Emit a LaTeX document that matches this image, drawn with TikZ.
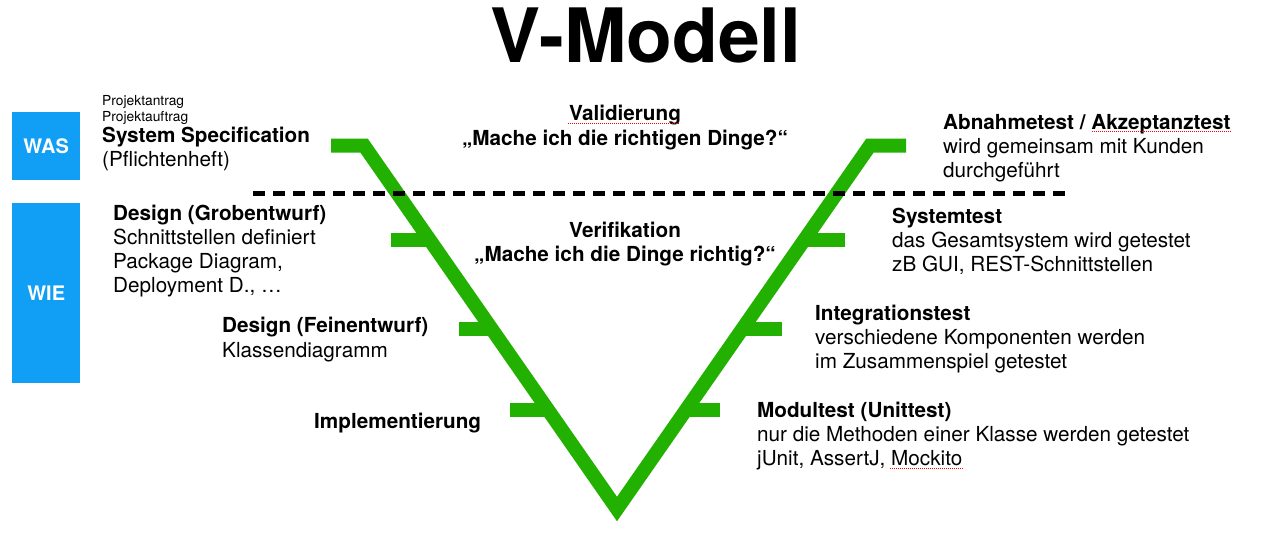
\documentclass[tikz,border=0pt]{standalone}
\usepackage{fontspec}
\setmainfont{TeX Gyre Heros}
\definecolor{vgreen}{RGB}{34,177,0}
\definecolor{wblue}{RGB}{17,158,245}
\tikzset{
  txt/.style={anchor=base west, inner sep=0pt, font=\fontsize{20.7}{24}\selectfont},
  btxt/.style={txt, font=\fontsize{20.7}{24}\selectfont\bfseries},
  ctxt/.style={btxt, anchor=base},
  smalltxt/.style={anchor=base west, inner sep=0pt, font=\fontsize{13.8}{16}\selectfont},
  vline/.style={draw=vgreen, line width=14pt, miter limit=10, line join=miter},
  vtick/.style={draw=vgreen, line width=14pt},
  sepline/.style={draw=black, line width=5pt, dash pattern=on 12pt off 8pt},
  bluebox/.style={fill=wblue, draw=none, anchor=north west, inner sep=0pt,
    minimum width=68pt, text=white, font=\fontsize{20}{24}\selectfont\bfseries},
  spell/.style={draw=red, line width=0.7pt, dash pattern=on 1pt off 1pt}
}
\begin{document}
\begin{tikzpicture}[x=1pt,y=-1pt]
\useasboundingbox[fill=white] (0,0) rectangle (1271,538);

% title
\node[anchor=base, inner sep=0pt, font=\fontsize{75}{80}\selectfont\bfseries] (title) at (646,62) {V-Modell};

% blue boxes
\node[bluebox, minimum height=68pt] (was) at (12,112) {WAS};
\node[bluebox, minimum height=180pt] (wie) at (12,203) {WIE};

% V shape
\coordinate (vs) at (331,145.5);
\coordinate (vl) at (364,145.5);
\coordinate (vb) at (617,509);
\coordinate (vr) at (870,145.5);
\coordinate (vend) at (906,145.5);
\draw[vline] (vs) -- (vl) -- (vb) -- (vr) -- (vend);

\path (vl) -- (vb) coordinate[pos=0.26] (l1) coordinate[pos=0.505] (l2) coordinate[pos=0.728] (l3);
\path (vb) -- (vr) coordinate[pos=0.74] (r1) coordinate[pos=0.495] (r2) coordinate[pos=0.272] (r3);
\draw[vtick] (l1) -- ++(-39,0);
\draw[vtick] (l2) -- ++(-33,0);
\draw[vtick] (l3) -- ++(-38,0);
\draw[vtick] (r1) -- ++(41,0);
\draw[vtick] (r2) -- ++(40,0);
\draw[vtick] (r3) -- ++(34,0);

% separator
\coordinate (d1) at (253,193);
\coordinate (d2) at (1072,193);
\draw[sepline] (d1) -- (d2);

% left texts
\node[smalltxt] (pa) at (102,105) {Projektantrag};
\node[smalltxt] (pb) at (102,121) {Projektauftrag};
\node[btxt] (ss) at (102,142) {System Specification};
\node[txt] (ph) at (102,166) {(Pflichtenheft)};

\node[btxt] (dg) at (113,220) {Design (Grobentwurf)};
\node[txt] (dg1) at (113,244) {Schnittstellen definiert};
\node[txt] (dg2) at (113,268) {Package Diagram,};
\node[txt] (dg3) at (113,292) {Deployment D., …};

\node[btxt] (df) at (222,332) {Design (Feinentwurf)};
\node[txt] (df1) at (222,357) {Klassendiagramm};
\node[btxt] (im) at (314,428) {Implementierung};

% center texts
\node[ctxt] (val) at (625,120) {Validierung};
\node[ctxt] (val1) at (625,145) {„Mache ich die richtigen Dinge?“};
\node[ctxt] (ver) at (625,237) {Verifikation};
\node[ctxt] (ver1) at (625,261) {„Mache ich die Dinge richtig?“};

% right texts
\node[btxt] (ab) at (943,129) {Abnahmetest / Akzeptanztest};
\node[txt] (ab1) at (943,153) {wird gemeinsam mit Kunden};
\node[txt] (ab2) at (943,177) {durchgeführt};

\node[btxt] (st) at (892,223) {Systemtest};
\node[txt] (st1) at (892,247) {das Gesamtsystem wird getestet};
\node[txt] (st2) at (892,271) {zB GUI, REST-Schnittstellen};

\node[btxt] (it) at (815,320) {Integrationstest};
\node[txt] (it1) at (815,344) {verschiedene Komponenten werden};
\node[txt] (it2) at (815,368) {im Zusammenspiel getestet};

\node[btxt] (mt) at (757,417) {Modultest (Unittest)};
\node[txt] (mt1) at (757,441) {nur die Methoden einer Klasse werden getestet};
\node[txt] (mt2) at (757,465) {jUnit, AssertJ, Mockito};

% spell-check marks
\coordinate (s1a) at (568,123.5); \coordinate (s1b) at (680,123.5);
\coordinate (s2a) at (1092,131.5); \coordinate (s2b) at (1232,131.5);
\coordinate (s3a) at (890,468.5); \coordinate (s3b) at (963,468.5);
\draw[spell] (s1a) -- (s1b);
\draw[spell] (s2a) -- (s2b);
\draw[spell] (s3a) -- (s3b);
\end{tikzpicture}
\end{document}
